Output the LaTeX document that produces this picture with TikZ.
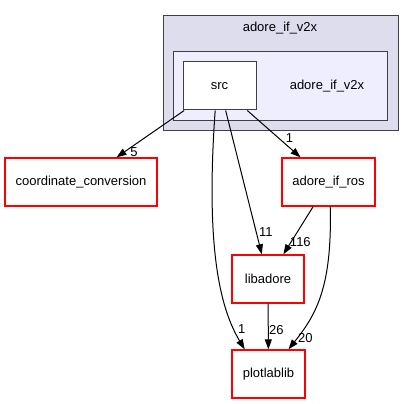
\documentclass[tikz,border=0pt]{standalone}
\usepackage{fontspec}
\setmainfont{Liberation Sans}
\usepackage{tikz}
\usetikzlibrary{positioning}
\usetikzlibrary{arrows.meta}
\usetikzlibrary{calc}
\definecolor{clusterOut}{HTML}{DDDDEE}
\definecolor{clusterIn}{HTML}{EEEEFF}
\definecolor{clusterLine}{HTML}{404040}
\definecolor{dirRed}{HTML}{FF0000}
\tikzstyle{dirBox}   = [draw=dirRed, line width=1.3pt, fill=white, minimum height=48pt, inner sep=0pt]
\tikzstyle{clBox}    = [draw=clusterLine, line width=1pt, inner sep=0pt]
\tikzstyle{depArrow} = [line width=1pt, -{Triangle[length=10pt,width=7pt]}]
\tikzstyle{depLabel} = [inner sep=0pt, font=\fontsize{13}{15}\selectfont]

\begin{document}
\begin{tikzpicture}[x=1pt,y=1pt,font=\fontsize{13}{15}\selectfont]
                    \useasboundingbox (0,0) rectangle (413,404);
                    \node at (280.5,330.5) [clBox,fill=clusterOut,minimum width=235pt,minimum height=115pt]                 (nOuter)  {};
                    \node at (280,317.5)   [clBox,fill=clusterIn, minimum width=214pt,minimum height=69pt]                  (nInner)  {};
                    \node at (280,376)     [inner sep=0pt]                                                                  (nOutLbl) {adore\_if\_v2x};
                    \node at (327,318)     [inner sep=0pt]                                                                  (nInLbl)  {adore\_if\_v2x};
                    \node at (219.5,318)   [clBox,fill=white,     minimum width=73pt, minimum height=48pt]                  (nSrc)    {src};
                    \node at (81,222)      [dirBox,minimum width=152pt]                                                     (nCoord)  {coordinate\_conversion};
                    \node at (328.5,222)   [dirBox,minimum width=93pt]                                                      (nRos)    {adore\_if\_ros};
                    \node at (268,125)     [dirBox,minimum width=72pt]                                                      (nLib)    {libadore};
                    \node at (268.5,30)    [dirBox,minimum width=73pt]                                                      (nPlot)   {plotlablib};
                    \draw[depArrow] (nSrc)     -- (nCoord)  node[depLabel,pos=1,xshift=17.5pt,yshift=5pt]  {5};
                    \draw[depArrow] (nSrc)     -- (nRos)    node[depLabel,pos=1,xshift=-11pt,yshift=19pt]  {1};
                    \draw[depArrow] (nSrc)     -- (nLib)    node[depLabel,pos=1,xshift=4pt,yshift=22pt]    {11};
                    \draw[depArrow] (nSrc.260) .. controls +(-10,-140) and +(-24,40) .. (nPlot.134) node[depLabel,pos=1,xshift=-3pt,yshift=20pt] {1};
                    \draw[depArrow] (nRos)     -- (nLib)    node[depLabel,pos=1,xshift=17pt,yshift=12pt]   {116};
                    \draw[depArrow] (nRos.274) .. controls +(2,-80) and +(28,35) .. (nPlot.51)   node[depLabel,pos=1,xshift=17pt,yshift=11pt]  {20};
                    \draw[depArrow] (nLib)     -- (nPlot)   node[depLabel,pos=1,xshift=8pt,yshift=19pt]    {26};
                \end{tikzpicture}
\end{document}
